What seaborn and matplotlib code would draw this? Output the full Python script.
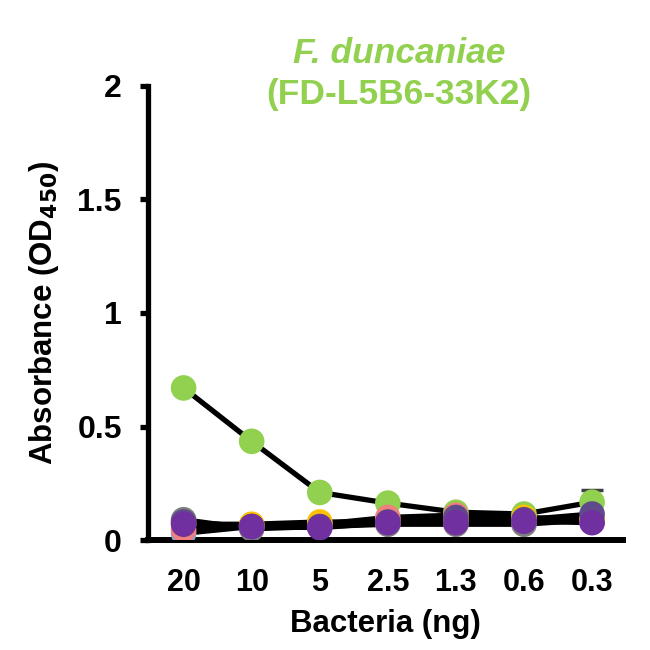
import pandas as pd
import seaborn as sns
import matplotlib.pyplot as plt

# Dilution series and measured absorbance per sample
doses = ['20', '10', '5', '2.5', '1.3', '0.6', '0.3']
series_names = ['green', 'blue', 'pink', 'gray', 'yellow', 'slate', 'purple']
green = [0.67, 0.435, 0.21, 0.163, 0.123, 0.115, 0.167]
blue = [0.03, 0.06, 0.07, 0.08, 0.09, 0.09, 0.08]
pink = [0.045, 0.065, 0.07, 0.10, 0.11, 0.09, 0.08]
gray = [0.09, 0.05, 0.06, 0.07, 0.07, 0.07, 0.09]
yellow = [0.07, 0.07, 0.08, 0.08, 0.09, 0.10, 0.09]
slate = [0.08, 0.06, 0.06, 0.08, 0.10, 0.09, 0.115]
purple = [0.07, 0.06, 0.055, 0.077, 0.077, 0.083, 0.077]
green_err = [0.0, 0.0, 0.0, 0.0, 0.0, 0.0, 0.055]
colors = ['#92D050', '#6FA8DC', '#F08080', '#808080', '#FFC000', '#5F4B8B', '#7030A0']

values = [green, blue, pink, gray, yellow, slate, purple]
rows = []
for name, vals in zip(series_names, values):
    for i, v in enumerate(vals):
        rows.append({'series': name, 'pos': i, 'od': v})
df = pd.DataFrame(rows)

sns.set_style('white')
plt.rcParams['font.family'] = ['Liberation Sans', 'DejaVu Sans']
plt.rcParams['font.weight'] = 'bold'
plt.rcParams['text.color'] = 'black'
plt.rcParams['axes.labelcolor'] = 'black'
plt.rcParams['xtick.color'] = 'black'
plt.rcParams['ytick.color'] = 'black'

fig = plt.figure(figsize=(6.5, 6.5), dpi=100)
ax = fig.add_axes([0.228, 0.169, 0.730, 0.699])

# error bars for the green series
ax.errorbar(range(len(doses)), green, yerr=green_err, fmt='none',
            ecolor='#404040', elinewidth=2, capsize=8, capthick=2.5, zorder=1)

sns.lineplot(data=df, x='pos', y='od', units='series', estimator=None,
             color='black', linewidth=3.8, ax=ax, zorder=2)
sns.scatterplot(data=df, x='pos', y='od', hue='series', palette=colors,
                hue_order=series_names, s=340, edgecolor='none',
                legend=False, ax=ax, zorder=3)

ax.set_xlim(-0.52, 6.45)
ax.set_ylim(0, 2)
ax.set_yticks([0, 0.5, 1, 1.5, 2])
ax.set_yticklabels(['0', '0.5', '1', '1.5', '2'])
ax.set_xticks(range(len(doses)))
ax.set_xticklabels(doses)

for side in ['top', 'right']:
    ax.spines[side].set_visible(False)
ax.spines['left'].set_linewidth(3.8)
ax.spines['bottom'].set_linewidth(4.3)
for side in ['left', 'bottom']:
    ax.spines[side].set_color('black')

ax.tick_params(axis='y', direction='out', length=6, width=3.8, labelsize=23, pad=13, left=True)
ax.tick_params(axis='x', length=0, labelsize=22, pad=20)
for lbl in ax.get_xticklabels() + ax.get_yticklabels():
    lbl.set_fontweight('bold')

ax.set_xlabel('Bacteria (ng)', fontsize=22.5, fontweight='bold', labelpad=8)
ax.set_ylabel('Absorbance (OD$_{\\mathbf{450}}$)', fontsize=22.5, fontweight='bold', labelpad=12)

fig.text(0.614, 0.917, 'F. duncaniae', color='#92D050', fontsize=25.5,
         fontweight='bold', fontstyle='italic', ha='center', va='center')
fig.text(0.614, 0.855, '(FD-L5B6-33K2)', color='#92D050', fontsize=25.5,
         fontweight='bold', ha='center', va='center')

fig.savefig('out.png', dpi=100)
